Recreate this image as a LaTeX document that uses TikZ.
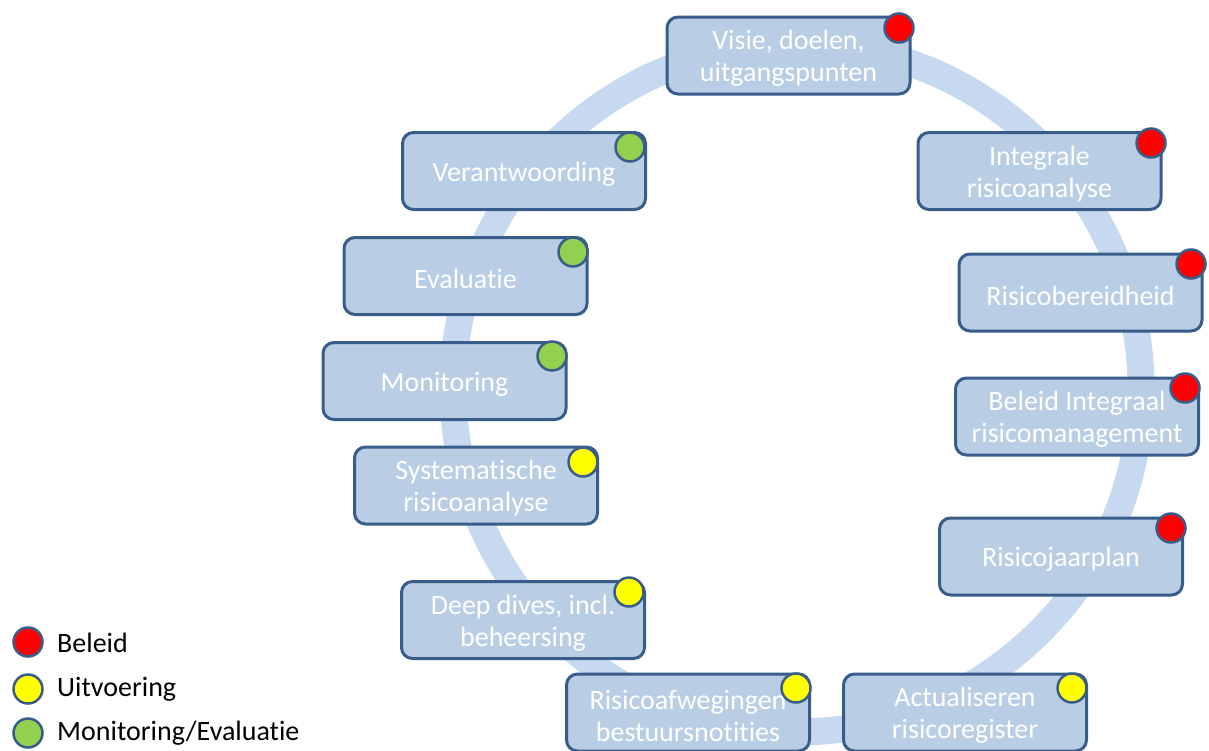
\documentclass[tikz,border=0pt]{standalone}
\usepackage{fontspec}
\setmainfont{Carlito}[Ligatures=NoCommon]
\definecolor{ringblue}{RGB}{198,217,240}
\definecolor{boxfill}{RGB}{185,205,229}
\definecolor{boxline}{RGB}{56,93,138}
\definecolor{dotred}{RGB}{255,0,0}
\definecolor{dotyellow}{RGB}{255,255,0}
\definecolor{dotgreen}{RGB}{146,208,80}
\tikzset{
  ringline/.style={draw=ringblue, line width=27pt},
  stage/.style={draw=boxline, fill=boxfill, line width=3pt, rounded corners=11pt,
    minimum width=243pt, minimum height=77pt, inner sep=0pt},
  stagetext/.style={align=center, inner sep=0pt, yshift=-3pt, text=white,
    font=\fontsize{28}{32}\selectfont},
  marker/.style={circle, draw=boxline, line width=2.5pt, minimum size=29pt, inner sep=0pt},
  beleid/.style={marker, fill=dotred},
  uitvoering/.style={marker, fill=dotyellow},
  moneval/.style={marker, fill=dotgreen},
  legendtext/.style={anchor=west, inner sep=0pt, text=black, font=\fontsize{28}{32}\selectfont}
}
\begin{document}
\begin{tikzpicture}[x=1pt, y=-1pt]
\useasboundingbox (0,0) rectangle (1209,750);
\begin{scope}
\clip (0,0) rectangle (1209,750);
\draw[ringline] (797,388) circle (344pt);

\node[stage, label={[stagetext]center:{Visie, doelen,\\uitgangspunten}}] (visie) at (788.5,55.5) {};
\node[stage, label={[stagetext]center:{Integrale\\risicoanalyse}}] (integrale) at (1039.5,171) {};
\node[stage, label={[stagetext]center:{Risicobereidheid}}] (bereid) at (1080.5,292.5) {};
\node[stage, label={[stagetext]center:{Beleid Integraal\\risicomanagement}}] (beleidirm) at (1077,416.5) {};
\node[stage, label={[stagetext]center:{Risicojaarplan}}] (jaarplan) at (1061,556.5) {};
\node[stage, label={[stagetext]center:{Actualiseren\\risicoregister}}] (actual) at (965,712.5) {};
\node[stage, label={[stagetext]center:{Risicoafwegingen\\bestuursnotities}}] (afweg) at (688,712.5) {};
\node[stage, label={[stagetext]center:{Deep dives, incl.\\beheersing}}] (deep) at (523,620) {};
\node[stage, label={[stagetext]center:{Systematische\\risicoanalyse}}] (syst) at (476,485.5) {};
\node[stage, label={[stagetext]center:{Monitoring}}] (monit) at (444.5,381) {};
\node[stage, label={[stagetext]center:{Evaluatie}}] (evalu) at (465.5,276) {};
\node[stage, label={[stagetext]center:{Verantwoording}}] (verant) at (524,171) {};

\node[beleid] (d1) at (899,28) {};
\node[beleid] (d2) at (1151,143) {};
\node[beleid] (d3) at (1191,264) {};
\node[beleid] (d4) at (1185,388) {};
\node[beleid] (d5) at (1171,528) {};
\node[uitvoering] (d6) at (1072,688) {};
\node[uitvoering] (d7) at (796,688) {};
\node[uitvoering] (d8) at (629,592) {};
\node[uitvoering] (d9) at (583,462) {};
\node[moneval] (d10) at (552,356) {};
\node[moneval] (d11) at (573,252) {};
\node[moneval] (d12) at (630,147) {};
\end{scope}

\node[beleid] (l1) at (28,642) {};
\node[uitvoering] (l2) at (28,689) {};
\node[moneval] (l3) at (28,733) {};
\node[legendtext] (t1) at (57,643) {Beleid};
\node[legendtext] (t2) at (57,689) {Uitvoering};
\node[legendtext] (t3) at (57,733) {Monitoring/Evaluatie};
\end{tikzpicture}
\end{document}
